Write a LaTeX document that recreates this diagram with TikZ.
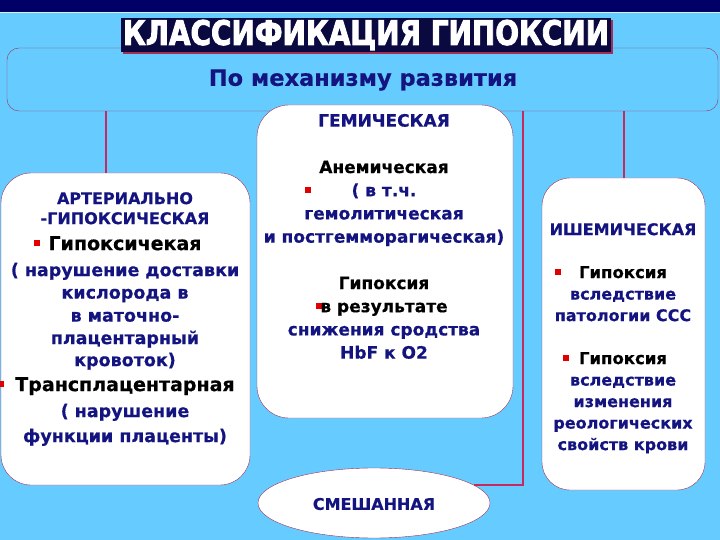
\documentclass[tikz,border=0pt]{standalone}
\usepackage{fontspec}
\setmainfont{DejaVu Sans}[BoldFeatures={FakeBold=0.5}]
\newfontfamily\headfont{DejaVu Sans}[BoldFeatures={FakeBold=3}]
\usepackage{graphicx}
\usetikzlibrary{shapes.geometric, shadows}
\definecolor{skyblue}{HTML}{66CCFF}
\definecolor{bandnavy}{HTML}{000066}
\definecolor{titlenavy}{HTML}{0A0A40}
\definecolor{inknavy}{HTML}{141480}
\definecolor{rimred}{HTML}{A0305A}
\definecolor{linkred}{HTML}{C82860}
\definecolor{dotred}{HTML}{E00000}
\newcommand{\fsz}[2]{\fontsize{#1}{#2}\bfseries\selectfont}
\newcommand{\blk}[1]{\textcolor{black}{#1}}
\newcommand{\rbul}[1]{\llap{\textcolor{dotred}{\rule[\dimexpr0.37em-3pt\relax]{6pt}{6pt}}\hspace{#1pt}}}

\begin{document}
\begin{tikzpicture}[x=1pt, y=-1pt,
  box/.style={draw=rimred, fill=white, rounded corners=30pt, inner sep=0pt},
  txt/.style={align=center, inner sep=0pt, text=inknavy},
  link/.style={draw=linkred, line width=2pt}]
\useasboundingbox[fill=skyblue] (0,0) rectangle (720,540);
\fill[bandnavy] (0,0) rectangle (720,12);
\draw[white!70!skyblue, line width=1pt] (0,13) -- (720,13);
% main heading
\node[draw=rimred, fill=skyblue, rounded corners=12pt, minimum width=711, minimum height=63, inner sep=0pt] (mech) at (362.5,79.5) {};
\node[txt, font=\fsz{22.5}{26}] (mechtext) at (363,80) {По механизму развития};
\node[fill=titlenavy, inner xsep=2pt, inner ysep=1.5pt, text=white,
  drop shadow={fill=rimred, shadow xshift=2pt, shadow yshift=-2pt, opacity=1}] (title) at (366,35)
  {\resizebox{486pt}{25pt}{\headfont\bfseries КЛАССИФИКАЦИЯ ГИПОКСИИ}};
% boxes
\node[box, minimum width=249, minimum height=312] (artbox) at (125.5,329) {};
\node[box, rounded corners=32pt, minimum width=256, minimum height=313] (gembox) at (385,261.5) {};
\node[box, rounded corners=28pt, minimum width=163, minimum height=312] (iscbox) at (623.5,334) {};
\node[ellipse, draw=rimred, fill=white, minimum width=232, minimum height=70, inner sep=0pt] (mixell) at (374,503) {};
% connectors
\draw[link] ([xshift=-20]artbox.north) -- ([xshift=-20]artbox.north |- mech.south);
\draw[link] (iscbox.north) -- (iscbox.north |- mech.south);
\draw[link] (mixell.10) -| ([xshift=10]gembox.east |- mech.south);
% texts
\node[txt, anchor=north, font=\fsz{17.5}{22.5}] (arttext) at (125,192) {
  {\fsz{16}{22.5}АРТЕРИАЛЬНО}\\[-2.5pt]
  {\fsz{16}{22.5}-ГИПОКСИЧЕСКАЯ}\\[3.5pt]
  \blk{\fsz{19}{22.5}\rbul{9}Гипоксичекая}\\[3.5pt]
  ( нарушение доставки\\
  кислорода в\\[0.5pt]
  в маточно-\\
  плацентарный\\[-0.5pt]
  кровоток)\\[2.5pt]
  \blk{\fsz{19}{22.5}\rbul{11}Трансплацентарная}\\[3.5pt]
  ( нарушение\\[2.5pt]
  функции плаценты)};
\node[txt, anchor=north, font=\fsz{17}{23.2}] (gemtext) at (384,113.8) {
  ГЕМИЧЕСКАЯ\\[23.2pt]
  \blk{Анемическая}\\
  \rbul{41}( в т.ч.\\
  гемолитическая\\
  и постгемморагическая)\\[23.2pt]
  \blk{Гипоксия}\\
  \blk{\rbul{-2}в результате}\\
  снижения сродства\\
  HbF к O2};
\node[txt, anchor=north, font=\fsz{16}{21.5}] (isctext) at (623,223) {
  ИШЕМИЧЕСКАЯ\\[21.5pt]
  \blk{\fsz{16.5}{21.5}\rbul{18}Гипоксия}\\
  вследствие\\
  патологии ССС\\[21.5pt]
  \blk{\fsz{16.5}{21.5}\rbul{10}Гипоксия}\\
  вследствие\\
  изменения\\
  реологических\\
  свойств крови};
\node[txt, font=\fsz{16}{20}] (mixtext) at (374,504) {СМЕШАННАЯ};
\end{tikzpicture}
\end{document}
